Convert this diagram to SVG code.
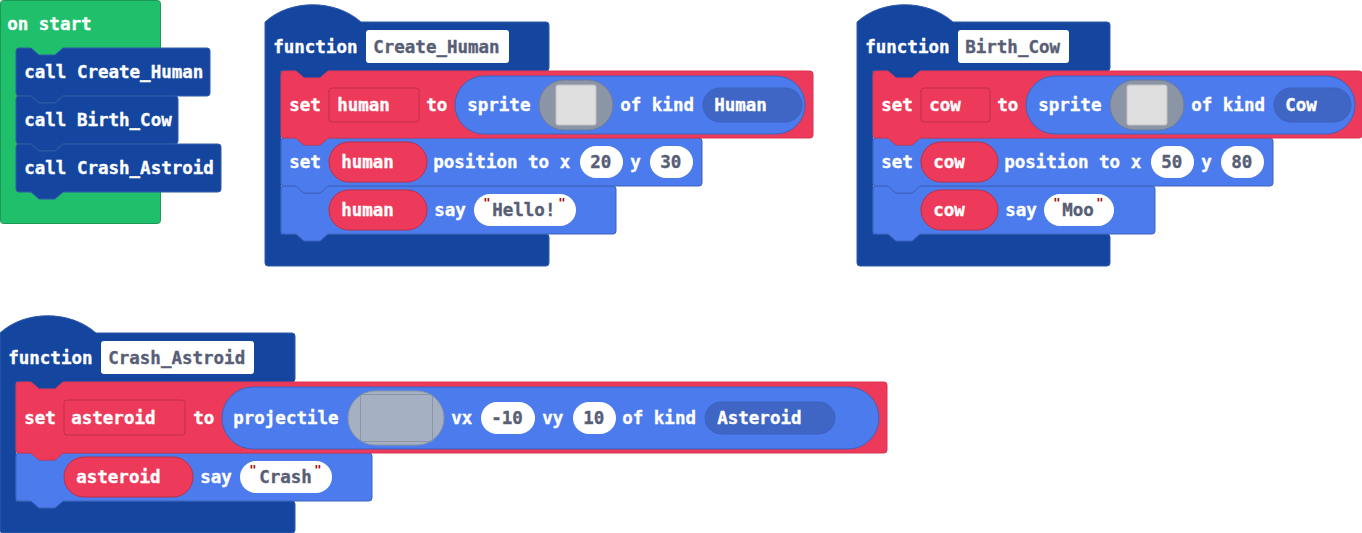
<svg xmlns="http://www.w3.org/2000/svg" width="1362" height="533" viewBox="0 0 1362 533">
<style>
text{font-family:"DejaVu Sans Mono","Liberation Mono",monospace;font-weight:700;font-size:17.5px;fill:#fff;stroke:#fff;stroke-width:.35px;transform:translate(-.8px,.3px)}
text.d{fill:#575e75;stroke:#575e75}
text.q{fill:#a30000;stroke:none;font-size:12px}
.g{fill:#20bf6b;stroke:#1a9956}
.f{fill:#1446a0;stroke:#2f5aa8}
.r{fill:#ee3a5a;stroke:#d63452}
.b{fill:#4b7bec;stroke:#3c62bd}
.w{fill:#fff}
.kb{fill:#3f66c4;stroke:#3c62bd}
.vr{fill:#ee3a5a;stroke:#be2e48}
.im{fill:#8b95a5;stroke:#6f7d9c}
.sq{fill:#dedede;stroke:#c2c2c2}
.im2{fill:#a5b0c2;stroke:#8c95a5}
.e{fill:none;stroke:#8c95a5}
</style>

<g id="on-start">
<rect class="g" x="0.5" y="0.5" width="160" height="223" rx="3"/>
<text x="8" y="30">on start</text>
</g>
<g id="call-create-human">
<path class="f" d="M19,48H31l8 7h16l8 -7H207q3 0 3 3V93q0 3-3 3H63l-8 7h-16l-8-7H19q-3 0-3-3V51q0-3 3-3Z"/>
<text x="25" y="78">call Create_Human</text>
</g>
<g id="call-birth-cow">
<path class="f" d="M19,96H31l8 7h16l8 -7H175q3 0 3 3V141q0 3-3 3H63l-8 7h-16l-8-7H19q-3 0-3-3V99q0-3 3-3Z"/>
<text x="25" y="126">call Birth_Cow</text>
</g>
<g id="call-crash-astroid">
<path class="f" d="M19,144H31l8 7h16l8 -7H218q3 0 3 3V189q0 3-3 3H63l-8 7h-16l-8-7H19q-3 0-3-3V147q0-3 3-3Z"/>
<text x="25" y="174">call Crash_Astroid</text>
</g>

<g id="function-create-human">
<path class="f" d="M265,22C290,-1 335,-1 361,22H546q3 0 3 3V68q0 3-3 3H328l-8 7h-16l-8-7H281V234H546q3 0 3 3V263q0 3-3 3H268q-3 0-3-3Z"/>
<text x="274" y="53">function</text>
<rect class="w" x="366" y="30" width="143" height="33" rx="3"/>
<text class="d" x="374" y="53">Create_Human</text>
</g>
<g id="say-human">
<path class="b" d="M284,186H296l8 7h16l8 -7H613q3 0 3 3V231q0 3-3 3H328l-8 7h-16l-8-7H284q-3 0-3-3V189q0-3 3-3Z"/>
<rect class="vr" x="329" y="190" width="98" height="40" rx="20"/>
<text x="342" y="216">human</text>
<text x="435" y="216">say</text>
<rect class="w" x="474" y="194" width="102" height="32" rx="16"/>
<text class="q" x="484" y="207">"</text>
<text class="d" x="493" y="216">Hello!</text>
<text class="q" x="559" y="207">"</text>
</g>
<g id="set-human-position">
<path class="b" d="M284,138H296l8 7h16l8 -7H699q3 0 3 3V183q0 3-3 3H328l-8 7h-16l-8-7H284q-3 0-3-3V141q0-3 3-3Z"/>
<text x="290" y="168">set</text>
<rect class="vr" x="329" y="142" width="98" height="40" rx="20"/>
<text x="342" y="168">human</text>
<text x="434" y="168">position to x</text>
<rect class="w" x="580" y="146" width="43" height="32" rx="16"/>
<text class="d" x="591" y="168">20</text>
<text x="631" y="168">y</text>
<rect class="w" x="650" y="146" width="43" height="32" rx="16"/>
<text class="d" x="661" y="168">30</text>
</g>
<g id="set-human-sprite">
<path class="r" d="M284,71H296l8 7h16l8 -7H810q3 0 3 3V135q0 3-3 3H328l-8 7h-16l-8-7H284q-3 0-3-3V74q0-3 3-3Z"/>
<text x="290" y="111">set</text>
<rect class="vr" x="329" y="88" width="90" height="34" rx="3"/>
<text x="338" y="111">human</text>
<text x="427" y="111">to</text>
<rect class="b" x="455" y="76" width="350" height="58" rx="29"/>
<text x="468" y="111">sprite</text>
<rect class="im" x="539" y="80" width="74" height="50" rx="25"/>
<rect class="sq" x="556" y="85" width="40" height="40" rx="2"/>
<text x="621" y="111">of kind</text>
<rect class="kb" x="703" y="88" width="99" height="34" rx="17"/>
<text x="715" y="111">Human</text>
</g>

<g id="function-birth-cow">
<path class="f" d="M857,22C882,-1 927,-1 953,22H1107q3 0 3 3V68q0 3-3 3H920l-8 7h-16l-8-7H873V234H1107q3 0 3 3V263q0 3-3 3H860q-3 0-3-3Z"/>
<text x="866" y="53">function</text>
<rect class="w" x="958" y="30" width="111" height="33" rx="3"/>
<text class="d" x="966" y="53">Birth_Cow</text>
</g>
<g id="say-cow">
<path class="b" d="M876,186H888l8 7h16l8 -7H1152q3 0 3 3V231q0 3-3 3H920l-8 7h-16l-8-7H876q-3 0-3-3V189q0-3 3-3Z"/>
<rect class="vr" x="921" y="190" width="77" height="40" rx="20"/>
<text x="934" y="216">cow</text>
<text x="1006" y="216">say</text>
<rect class="w" x="1044" y="194" width="70" height="32" rx="16"/>
<text class="q" x="1054" y="207">"</text>
<text class="d" x="1063" y="216">Moo</text>
<text class="q" x="1097" y="207">"</text>
</g>
<g id="set-cow-position">
<path class="b" d="M876,138H888l8 7h16l8 -7H1270q3 0 3 3V183q0 3-3 3H920l-8 7h-16l-8-7H876q-3 0-3-3V141q0-3 3-3Z"/>
<text x="882" y="168">set</text>
<rect class="vr" x="921" y="142" width="77" height="40" rx="20"/>
<text x="934" y="168">cow</text>
<text x="1005" y="168">position to x</text>
<rect class="w" x="1151" y="146" width="43" height="32" rx="16"/>
<text class="d" x="1162" y="168">50</text>
<text x="1202" y="168">y</text>
<rect class="w" x="1221" y="146" width="43" height="32" rx="16"/>
<text class="d" x="1232" y="168">80</text>
</g>
<g id="set-cow-sprite">
<path class="r" d="M876,71H888l8 7h16l8 -7H1359q3 0 3 3V135q0 3-3 3H920l-8 7h-16l-8-7H876q-3 0-3-3V74q0-3 3-3Z"/>
<text x="882" y="111">set</text>
<rect class="vr" x="921" y="88" width="69" height="34" rx="3"/>
<text x="930" y="111">cow</text>
<text x="998" y="111">to</text>
<rect class="b" x="1026" y="76" width="329" height="58" rx="29"/>
<text x="1039" y="111">sprite</text>
<rect class="im" x="1110" y="80" width="74" height="50" rx="25"/>
<rect class="sq" x="1127" y="85" width="40" height="40" rx="2"/>
<text x="1192" y="111">of kind</text>
<rect class="kb" x="1274" y="88" width="77" height="34" rx="17"/>
<text x="1286" y="111">Cow</text>
</g>

<g id="function-crash-astroid">
<path class="f" d="M0,333C25,310 70,310 96,333H292q3 0 3 3V379q0 3-3 3H63l-8 7h-16l-8-7H16V501H292q3 0 3 3V530q0 3-3 3H3q-3 0-3-3Z"/>
<text x="9" y="364">function</text>
<rect class="w" x="101" y="341" width="153" height="33" rx="3"/>
<text class="d" x="109" y="364">Crash_Astroid</text>
</g>
<g id="say-asteroid">
<path class="b" d="M19,453H31l8 7h16l8 -7H369q3 0 3 3V498q0 3-3 3H63l-8 7h-16l-8-7H19q-3 0-3-3V456q0-3 3-3Z"/>
<rect class="vr" x="64" y="457" width="129" height="40" rx="20"/>
<text x="77" y="483">asteroid</text>
<text x="201" y="483">say</text>
<rect class="w" x="240" y="461" width="92" height="32" rx="16"/>
<text class="q" x="250" y="474">"</text>
<text class="d" x="260" y="483">Crash</text>
<text class="q" x="315" y="474">"</text>
</g>
<g id="set-asteroid">
<path class="r" d="M19,382H31l8 7h16l8 -7H884q3 0 3 3V450q0 3-3 3H63l-8 7h-16l-8-7H19q-3 0-3-3V385q0-3 3-3Z"/>
<text x="25" y="424">set</text>
<rect class="vr" x="64" y="400" width="121" height="35" rx="3"/>
<text x="72" y="424">asteroid</text>
<text x="194" y="424">to</text>
<rect class="b" x="222" y="387" width="657" height="62" rx="31"/>
<text x="234" y="424">projectile</text>
<rect class="im2" x="348" y="391" width="96" height="54" rx="27"/>
<rect class="e" x="360.5" y="394.5" width="72" height="47" rx="2"/>
<text x="452" y="424">vx</text>
<rect class="w" x="481" y="402" width="54" height="32" rx="16"/>
<text class="d" x="492" y="424">-10</text>
<text x="543" y="424">vy</text>
<rect class="w" x="573" y="402" width="43" height="32" rx="16"/>
<text class="d" x="584" y="424">10</text>
<text x="623" y="424">of kind</text>
<rect class="kb" x="705" y="402" width="130" height="32" rx="16"/>
<text x="718" y="424">Asteroid</text>
</g>
<g id="connectors"/>
</svg>
